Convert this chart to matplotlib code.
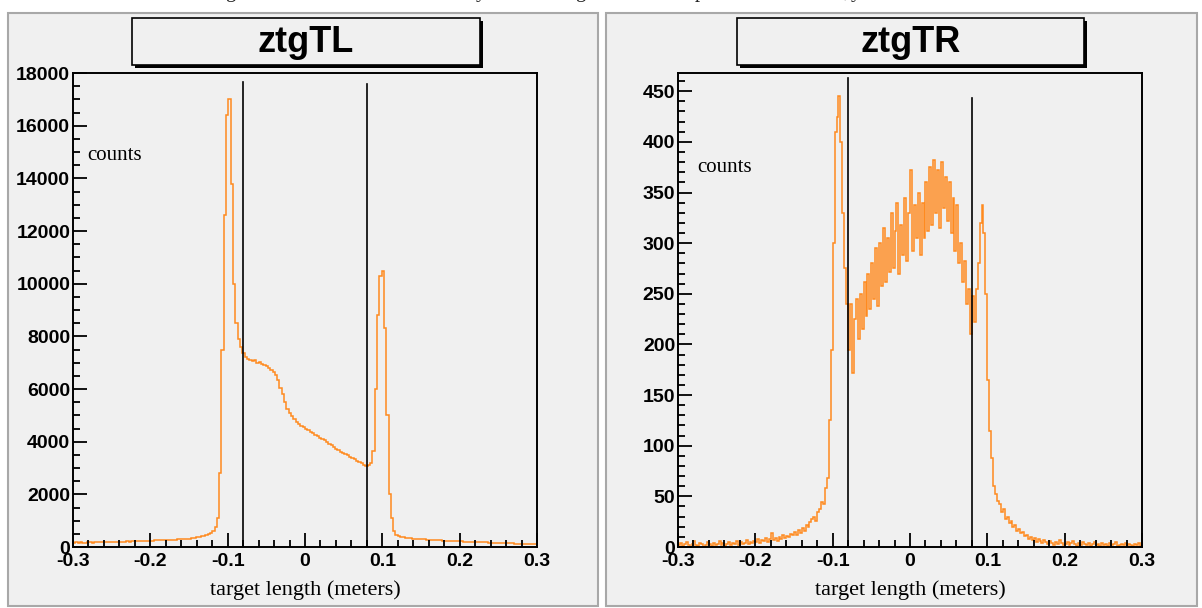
import numpy as np
import matplotlib.pyplot as plt
from matplotlib.patches import Rectangle
from matplotlib.ticker import MultipleLocator

plt.rcParams['axes.unicode_minus'] = False

# ztgTL histogram, 200 bins from -0.3 to 0.3 m
left_counts = [
    165, 172, 160, 178, 170, 168, 181, 175, 170, 183,
    180, 186, 178, 190, 185, 193, 188, 195, 190, 198,
    200, 205, 198, 210, 207, 214, 212, 220, 216, 225,
    228, 232, 238, 235, 245, 250, 248, 258, 262, 268,
    262, 266, 272, 276, 280, 286, 290, 296, 302, 310,
    318, 330, 345, 362, 380, 400, 425, 455, 495, 545,
    620, 760, 1100, 2800, 7500, 12600, 16400, 17000, 13800, 10000,
    8500, 7900, 7600, 7350, 7200, 7150, 7120, 7050, 7100, 7000,
    7030, 6950, 6900, 6880, 6800, 6720, 6650, 6550, 6350, 6050,
    5800, 5500, 5250, 5080, 4960, 4850, 4760, 4680, 4600, 4540,
    4490, 4430, 4370, 4330, 4270, 4220, 4150, 4090, 4050, 3980,
    3920, 3860, 3800, 3720, 3680, 3620, 3570, 3520, 3480, 3430,
    3380, 3330, 3270, 3220, 3180, 3130, 3060, 3120, 3200, 3650,
    6000, 8800, 10300, 10500, 8300, 5000, 2000, 1100, 620, 450,
    400, 380, 365, 350, 340, 330, 320, 312, 305, 298,
    290, 285, 278, 272, 268, 262, 258, 252, 248, 244,
    240, 236, 232, 228, 225, 220, 216, 212, 208, 205,
    200, 196, 193, 190, 186, 182, 178, 175, 172, 168,
    165, 160, 158, 155, 150, 148, 145, 142, 140, 135,
    132, 130, 128, 125, 122, 120, 118, 115, 112, 110,
]

# ztgTR histogram, 240 bins from -0.3 to 0.3 m
right_counts = [
    2, 4, 1, 3, 5, 2, 0, 3, 6, 2, 1, 4, 3, 0, 2, 5, 3, 1, 4, 2,
    3, 6, 2, 4, 1, 3, 5, 2, 4, 3, 6, 2, 5, 3, 4, 7, 3, 5, 4, 6,
    5, 8, 4, 7, 6, 9, 5, 8, 14, 7, 9, 6, 10, 8, 12, 9, 11, 10, 13, 12,
    15, 12, 17, 14, 19, 16, 22, 20, 25, 28, 30, 26, 35, 38, 44, 42,
    58, 68, 125, 195, 300, 410, 425, 445, 400, 330, 275, 240,
    195, 240, 172, 225, 245, 205, 250, 215, 262, 228, 270, 235,
    280, 245, 295, 238, 300, 258, 315, 262, 305, 272,
    330, 275, 312, 340, 270, 318, 288, 345, 282, 330,
    372, 292, 338, 305, 350, 288, 340, 305, 360, 312,
    375, 318, 382, 330, 372, 315, 380, 335, 365, 322,
    360, 310, 345, 292, 338, 280, 300, 262, 282, 240,
    255, 210, 248, 222, 255, 280, 320, 338, 310, 250,
    165, 115, 88, 60, 52, 45, 42, 35, 38, 28,
    30, 24, 26, 20, 22, 16, 18, 14, 15, 11,
    12, 8, 10, 7, 9, 5, 8, 6, 4, 7,
    5, 3, 6, 4, 2, 5, 3, 7, 4, 2, 3, 5, 2, 4, 6, 3, 1, 4, 2, 5,
    3, 2, 4, 1, 3, 5, 2, 3, 1, 4, 2, 3, 1, 4, 2, 3, 5, 1, 2, 3,
    2, 4, 1, 3, 2, 1, 3, 2, 4, 1,
]

xticks = [-0.3, -0.2, -0.1, 0, 0.1, 0.2, 0.3]
xticklabels = ['-0.3', '-0.2', '-0.1', '0', '0.1', '0.2', '0.3']
cut_positions = [-0.08, 0.08]
left_cut_tops = [17650, 17600]
right_cut_tops = [463, 443]

W, H = 1202, 608
fig = plt.figure(figsize=(W / 100, H / 100), dpi=100, facecolor='white')


def px_rect(x0, y0, x1, y1, z, **kw):
    # rectangle given in pixel coords (y from top)
    r = Rectangle((x0 / W, 1 - y1 / H), (x1 - x0) / W, (y1 - y0) / H,
                  transform=fig.transFigure, zorder=z, **kw)
    fig.patches.append(r)


# pads (behind the axes)
px_rect(8, 13, 598, 606, -10, facecolor='#f0f0f0', edgecolor='#a8a8a8', lw=1.5)
px_rect(606, 13, 1197, 606, -10, facecolor='#f0f0f0', edgecolor='#a8a8a8', lw=1.5)

# cropped caption line at the very top of the page
for ch, xp in zip(['g', 'y', 'g', 'p', ',', 'y'], [230, 481, 580, 700, 846, 856]):
    fig.text(xp / W, 1 + 3 / H, ch, family='Liberation Serif', fontsize=15,
             ha='center', va='baseline', color='#222222')

orange = '#ff8a1e'


def draw_panel(ax_left, counts, ymax, major, minor, cut_tops, title, box, counts_pos):
    ax = fig.add_axes([ax_left / W, (H - 547) / H, 464 / W, 474 / H])
    ax.set_facecolor('#f0f0f0')
    edges = np.linspace(-0.3, 0.3, len(counts) + 1)
    ax.stairs(counts, edges, baseline=None, color=orange, lw=1.1)
    for xc, top in zip(cut_positions, cut_tops):
        ax.plot([xc, xc], [0, top], color='black', lw=1.2)
    ax.set_xlim(-0.3, 0.3)
    ax.set_ylim(0, ymax)
    ax.set_xticks(xticks)
    ax.set_xticklabels(xticklabels)
    ax.xaxis.set_minor_locator(MultipleLocator(0.02))
    ax.yaxis.set_major_locator(MultipleLocator(major))
    ax.yaxis.set_minor_locator(MultipleLocator(minor))
    ax.tick_params(which='both', direction='in', width=1.3, colors='black')
    ax.tick_params(which='major', length=10)
    ax.tick_params(which='minor', length=5)
    ax.tick_params(axis='x', pad=4)
    ax.tick_params(axis='y', pad=2)
    for lab in ax.get_xticklabels() + ax.get_yticklabels():
        lab.set_fontfamily('Liberation Sans')
        lab.set_fontweight('bold')
        lab.set_fontsize(14)
    for s in ax.spines.values():
        s.set_linewidth(1.4)
    ax.text(counts_pos[0], counts_pos[1], 'counts', transform=ax.transAxes,
            family='Liberation Serif', fontsize=15, ha='left', va='center')
    ax.text(0.5, -0.091, 'target length (meters)', transform=ax.transAxes,
            family='Liberation Serif', fontsize=16, ha='center', va='center')
    # title box with shadow
    x0, x1 = box
    px_rect(x0 + 3, 21, x1 + 3, 68, 5, facecolor='black', edgecolor='black', lw=0)
    px_rect(x0, 18, x1, 65, 6, facecolor='#f0f0f0', edgecolor='black', lw=1.2)
    fig.text((x0 + x1) / 2 / W, 1 - 42 / H, title, family='Liberation Sans',
             fontweight='bold', fontsize=26, ha='center', va='center', zorder=7)
    return ax


draw_panel(73, left_counts, 18000, 2000, 500, left_cut_tops, 'ztgTL',
           (132, 480), (0.03, 0.827))
draw_panel(678, right_counts, 468, 50, 10, right_cut_tops, 'ztgTR',
           (737, 1084), (0.041, 0.80))

fig.savefig('out.png', dpi=100, facecolor=fig.get_facecolor())
